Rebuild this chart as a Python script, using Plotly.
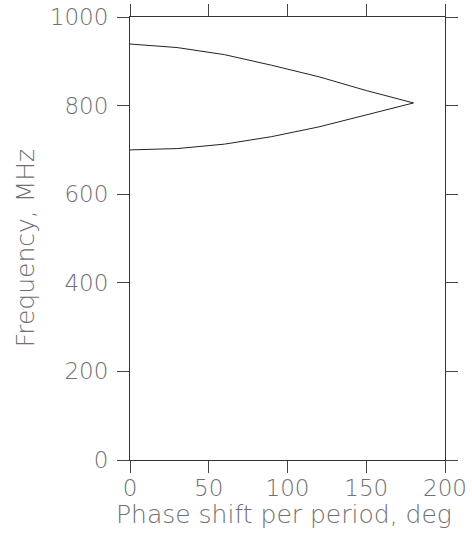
import plotly.graph_objects as go

phase_deg = [0, 30, 60, 90, 120, 150, 180]
upper_mhz = [939, 931, 915, 891, 865, 834, 806]
lower_mhz = [700, 703, 713, 730, 752, 779, 806]

x_ticks = [0, 50, 100, 150, 200]
y_ticks = [0, 200, 400, 600, 800, 1000]
x_title = "Phase shift per period, deg"
y_title = "Frequency, MHz"

line_style = dict(color="#222222", width=1)
fig = go.Figure()
fig.add_trace(go.Scatter(x=phase_deg, y=upper_mhz, mode="lines", line=line_style, showlegend=False))
fig.add_trace(go.Scatter(x=phase_deg, y=lower_mhz, mode="lines", line=line_style, showlegend=False))

tick_font = dict(family="DejaVu Sans", size=23, color="#707070", weight=200)
title_font = dict(family="DejaVu Sans", size=25, color="#707070", weight=200)
axis_common = dict(
    showgrid=False, zeroline=False, showline=True, linecolor="#333333", linewidth=1,
    mirror="ticks", ticks="outside", ticklen=12, tickcolor="#444444", tickwidth=1,
    tickfont=tick_font, automargin=False, ticklabeloverflow="allow",
)
fig.update_xaxes(range=[0, 200], tickvals=x_ticks, ticktext=[str(v) for v in x_ticks],
                 ticklabelstandoff=-5, **axis_common)
fig.update_yaxes(range=[0, 1000], tickvals=y_ticks, ticktext=[str(v) for v in y_ticks],
                 ticklabelstandoff=4, **axis_common)
fig.add_annotation(text=x_title, xref="paper", yref="paper", x=0.49, y=-0.124,
                   xanchor="center", yanchor="middle", showarrow=False, font=title_font)
fig.add_annotation(text=y_title, xref="paper", yref="paper", x=-0.333, y=0.478,
                   xanchor="center", yanchor="middle", showarrow=False, font=title_font,
                   textangle=-90)
fig.update_layout(
    width=472, height=534, margin=dict(l=130, r=27, t=17, b=74),
    paper_bgcolor="white", plot_bgcolor="white",
)
fig.write_html("out.html", config={"displayModeBar": False},
               post_script="document.body.style.margin='0';")
